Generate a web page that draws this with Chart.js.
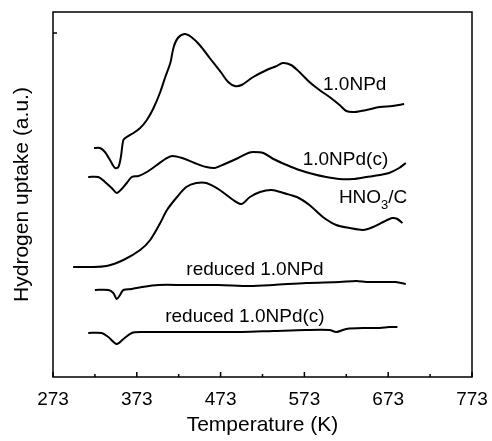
<!DOCTYPE html>
<html>
<head>
<meta charset="utf-8">
<script src="https://cdn.jsdelivr.net/npm/chart.js@4/dist/chart.umd.min.js"></script>
<style>
  html, body { margin: 0; padding: 0; background: #fff; }
  canvas { display: block; }
</style>
</head>
<body>
<canvas id="c" width="492" height="441"></canvas>
<script>
// ---- Data (temperature in K, signal in arbitrary units) ----
const npdT  = [322,329,335,341,347,351,354,357,361,369,377,385,393,401,407,413,417,422,430,438,448,460,474,482,490,498,512,528,540,547,557,567,579,591,603,615,623,633,647,663,678,692];
const npdV  = [229,229,225,217,209,210,220,237,240,244,249,257,269,285,300,314,330,339,343,340,332,319,304,295,291,292,300,307,311,314,312,305,295,287,280,272,266,265,267,270,271,273];

const npdcT = [315,327,335,343,349,355,361,367,375,385,397,407,415,427,442,456,466,478,494,506,512,524,536,552,567,583,599,615,631,647,663,674,686,694];
const npdcV = [200,200,195,189,184,188,194,200,201,205,212,218,221,219,214,210,209,213,219,224,225,224,218,212,207,203,200,198,198,200,202,204,209,214];

const hnoT  = [297,317,337,357,377,389,401,409,421,432,444,456,472,488,498,508,520,534,548,564,579,595,611,627,643,655,667,678,684,690];
const hnoV  = [110,110,111,117,127,137,154,167,180,190,194,194,187,177,173,180,185,187,184,180,172,160,152,149,147,150,155,159,158,154];

const rnpdT = [323,339,345,349,353,357,367,379,399,430,470,508,536,575,615,635,647,663,671,682,694];
const rnpdV = [87,87,84,78,82,87,88,90,92,92,92,91,92,94,95,96,95,95,95,95,93];

const rnpdcT = [315,331,339,349,357,367,379,411,450,498,536,575,603,611,623,647,663,674,684];
const rnpdcV = [44,44,40,33,38,44,45,45,45,45,46,47,47,45,48,49,49,50,50];

// x-axis tick labels (K) and minor ticks
const xTicks = [273,373,473,573,673,773];
const xMinorTicks = [323,423,523,623,723];
// single tick mark on the y axis
const yTickMarks = [344];

// curve labels (text + anchor in data coordinates)
const curveLabels = ['1.0NPd', '1.0NPd(c)', 'HNO3/C', 'reduced 1.0NPd', 'reduced 1.0NPd(c)'];
const labelT = [633, 622, 655, 514, 502];
const labelV = [292, 217, 179, 107, 60];

const FONT = '"Liberation Sans", Arial, Helvetica, sans-serif';

function pts(t, v) { return t.map((x, i) => ({ x: x, y: v[i] })); }
function ds(t, v) {
  return { data: pts(t, v), showLine: true, borderColor: '#000', borderWidth: 2,
           pointRadius: 0, tension: 0.3, fill: false };
}

const framePlugin = {
  id: 'frame',
  afterDraw(chart) {
    const ctx = chart.ctx;
    const { left, top, right, bottom } = chart.chartArea;
    const xs = chart.scales.x, ys = chart.scales.y;
    ctx.save();
    ctx.strokeStyle = '#000';
    ctx.lineWidth = 1.5;
    ctx.strokeRect(left, top, right - left, bottom - top);
    ctx.beginPath();
    xTicks.forEach(v => { const p = xs.getPixelForValue(v); ctx.moveTo(p, bottom); ctx.lineTo(p, bottom - 5); });
    xMinorTicks.forEach(v => { const p = xs.getPixelForValue(v); ctx.moveTo(p, bottom); ctx.lineTo(p, bottom - 3); });
    yTickMarks.forEach(v => { const p = ys.getPixelForValue(v); ctx.moveTo(left, p); ctx.lineTo(left + 4, p); });
    ctx.stroke();

    // curve labels
    ctx.fillStyle = '#000';
    ctx.textBaseline = 'middle';
    curveLabels.forEach((txt, i) => {
      const px = xs.getPixelForValue(labelT[i]);
      const py = ys.getPixelForValue(labelV[i]);
      // render digits after element symbols like "HNO3" as subscript
      const m = txt.match(/^(HNO)(\d)(.*)$/);
      if (m) {
        const big = '19px ' + FONT, small = '13px ' + FONT;
        ctx.font = big; const w1 = ctx.measureText(m[1]).width, w3 = ctx.measureText(m[3]).width;
        ctx.font = small; const w2 = ctx.measureText(m[2]).width;
        let x0 = px - (w1 + w2 + w3) / 2;
        ctx.textAlign = 'left';
        ctx.font = big; ctx.fillText(m[1], x0, py);
        ctx.font = small; ctx.fillText(m[2], x0 + w1, py + 7);
        ctx.font = big; ctx.fillText(m[3], x0 + w1 + w2, py);
      } else {
        ctx.font = '19px ' + FONT;
        ctx.textAlign = 'center';
        ctx.fillText(txt, px, py);
      }
    });
    ctx.restore();
  }
};

new Chart(document.getElementById('c'), {
  type: 'scatter',
  data: { datasets: [ds(npdT, npdV), ds(npdcT, npdcV), ds(hnoT, hnoV), ds(rnpdT, rnpdV), ds(rnpdcT, rnpdcV)] },
  options: {
    responsive: false,
    animation: false,
    layout: { padding: { top: 12, right: 20, left: 0, bottom: 0 } },
    plugins: { legend: { display: false }, tooltip: { enabled: false } },
    scales: {
      x: {
        type: 'linear', min: 273, max: 773,
        afterBuildTicks: s => { s.ticks = xTicks.map(v => ({ value: v })); },
        ticks: { stepSize: 100, color: '#000', font: { family: FONT, size: 19 }, padding: 11, maxRotation: 0 },
        grid: { display: false, drawTicks: false },
        border: { display: false },
        title: { display: true, text: 'Temperature (K)', color: '#000', font: { family: FONT, size: 21 }, padding: { top: 0, bottom: 3 } },
        afterFit: s => { s.height = 64; s.paddingLeft = 0; s.paddingRight = 0; }
      },
      y: {
        type: 'linear', min: 0, max: 365,
        ticks: { display: false },
        grid: { display: false, drawTicks: false },
        border: { display: false },
        title: { display: true, text: 'Hydrogen uptake (a.u.)', color: '#000', font: { family: FONT, size: 21 }, padding: { top: 10, bottom: 0 } },
        afterFit: s => { s.width = 53; }
      }
    }
  },
  plugins: [framePlugin]
});
</script>
</body>
</html>
